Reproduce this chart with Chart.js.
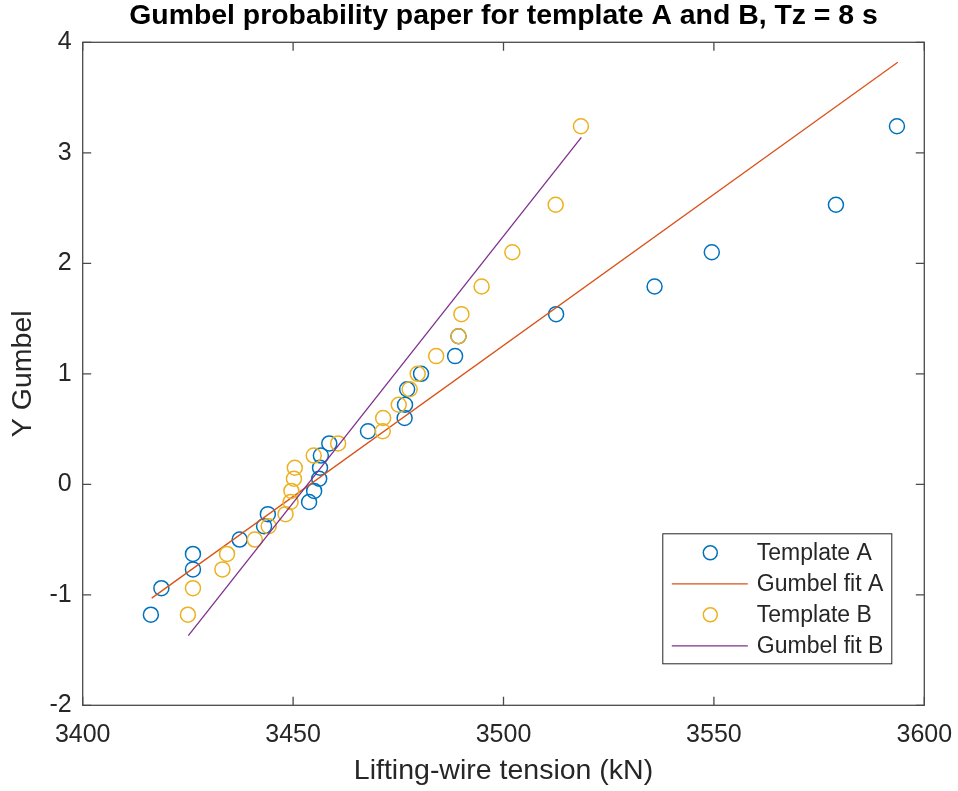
<!DOCTYPE html>
<html>
<head>
<meta charset="utf-8">
<script src="https://cdn.jsdelivr.net/npm/chart.js@4"></script>
<style>
  html, body { margin: 0; padding: 0; background: #fff; }
  #wrap { width: 958px; height: 791px; }
</style>
</head>
<body>
<div id="wrap"><canvas id="c" width="958" height="791"></canvas></div>
<script>
// ---- data ----
const seriesNames = ['Template A', 'Gumbel fit A', 'Template B', 'Gumbel fit B'];
const tensionA = [3416.2, 3418.7, 3426.2, 3426.2, 3437.3, 3443.1, 3444.0, 3453.8, 3455.0, 3456.2, 3456.4, 3456.6, 3458.6, 3467.8, 3476.5, 3476.6, 3477.1, 3480.4, 3488.5, 3489.3, 3512.5, 3535.9, 3549.5, 3579.0, 3593.5];
const tensionB = [3425.0, 3426.2, 3433.2, 3434.3, 3440.9, 3444.2, 3448.2, 3449.4, 3449.6, 3450.2, 3450.4, 3454.9, 3460.7, 3471.3, 3471.4, 3475.1, 3477.7, 3479.6, 3484.0, 3489.3, 3490.0, 3494.8, 3502.1, 3512.4, 3518.4];
const yGumbel = [-1.18, -0.94, -0.77, -0.63, -0.50, -0.38, -0.27, -0.16, -0.06, 0.05, 0.15, 0.26, 0.37, 0.48, 0.60, 0.72, 0.86, 1.00, 1.16, 1.34, 1.54, 1.79, 2.10, 2.53, 3.24];
const fitAx = [3416.4, 3593.7];
const fitAy = [-1.03, 3.82];
const fitBx = [3425.1, 3518.5];
const fitBy = [-1.37, 3.14];
const xTicks = [3400, 3450, 3500, 3550, 3600];
const yTicks = [-2, -1, 0, 1, 2, 3, 4];

const FONT = "'Liberation Sans', Arial, Helvetica, sans-serif";
const AXIS = '#262626';

const pts = (xs, ys) => xs.map((x, i) => ({ x: x, y: ys[i] }));

const frameAndLegend = {
  id: 'frameAndLegend',
  beforeDatasetsDraw(chart) {
    const { ctx, chartArea: a, scales } = chart;
    const tl = 8.5;
    ctx.save();
    ctx.strokeStyle = '#4a4a4a';
    ctx.lineWidth = 1.3;
    ctx.beginPath();
    scales.x.ticks.forEach(t => {
      const px = scales.x.getPixelForValue(t.value);
      ctx.moveTo(px, a.bottom); ctx.lineTo(px, a.bottom - tl);
      ctx.moveTo(px, a.top); ctx.lineTo(px, a.top + tl);
    });
    scales.y.ticks.forEach(t => {
      const py = scales.y.getPixelForValue(t.value);
      ctx.moveTo(a.left, py); ctx.lineTo(a.left + tl, py);
      ctx.moveTo(a.right, py); ctx.lineTo(a.right - tl, py);
    });
    ctx.stroke();
    ctx.strokeRect(a.left, a.top, a.right - a.left, a.bottom - a.top);
    ctx.restore();
  },
  afterDraw(chart) {
    const { ctx, chartArea: a } = chart;
    const box = { l: a.right - 261.5, t: a.bottom - 171.5, r: a.right - 32.5, b: a.bottom - 41.5 };
    ctx.save();
    ctx.fillStyle = '#ffffff';
    ctx.fillRect(box.l, box.t, box.r - box.l, box.b - box.t);
    ctx.strokeStyle = AXIS;
    ctx.lineWidth = 1;
    ctx.strokeRect(box.l, box.t, box.r - box.l, box.b - box.t);
    const rows = [19, 50, 81, 112];
    chart.data.datasets.forEach((ds, i) => {
      const y = box.t + rows[i];
      if (ds.showLine) {
        ctx.strokeStyle = ds.borderColor;
        ctx.lineWidth = ds.borderWidth;
        ctx.beginPath();
        ctx.moveTo(box.l + 9, y); ctx.lineTo(box.l + 85, y);
        ctx.stroke();
      } else {
        ctx.strokeStyle = ds.borderColor;
        ctx.lineWidth = ds.borderWidth;
        ctx.beginPath();
        ctx.arc(box.l + 47.5, y, 7, 0, Math.PI * 2);
        ctx.stroke();
      }
      ctx.fillStyle = AXIS;
      ctx.font = '23px ' + FONT;
      ctx.textAlign = 'left';
      ctx.textBaseline = 'middle';
      ctx.fillText(ds.label, box.l + 94, y + 1);
    });
    ctx.restore();
  }
};

new Chart(document.getElementById('c'), {
  type: 'scatter',
  data: {
    datasets: [
      { label: seriesNames[0], data: pts(tensionA, yGumbel), showLine: false, order: 4,
        pointStyle: 'circle', pointRadius: 7.5, pointBorderWidth: 1.5, borderWidth: 1.5,
        borderColor: '#0072BD', pointBorderColor: '#0072BD', pointBackgroundColor: 'rgba(0,0,0,0)', backgroundColor: 'rgba(0,0,0,0)' },
      { label: seriesNames[1], data: pts(fitAx, fitAy), showLine: true, order: 3,
        pointRadius: 0, borderWidth: 1.3, borderColor: '#D95319', backgroundColor: '#D95319', tension: 0 },
      { label: seriesNames[2], data: pts(tensionB, yGumbel), showLine: false, order: 2,
        pointStyle: 'circle', pointRadius: 7.5, pointBorderWidth: 1.5, borderWidth: 1.5,
        borderColor: '#EDB120', pointBorderColor: '#EDB120', pointBackgroundColor: 'rgba(0,0,0,0)', backgroundColor: 'rgba(0,0,0,0)' },
      { label: seriesNames[3], data: pts(fitBx, fitBy), showLine: true, order: 1,
        pointRadius: 0, borderWidth: 1.3, borderColor: '#7E2F8E', backgroundColor: '#7E2F8E', tension: 0 }
    ]
  },
  options: {
    responsive: false,
    animation: false,
    events: [],
    layout: { padding: { top: 0, left: 0, right: 33.7, bottom: 0 } },
    plugins: {
      legend: { display: false },
      tooltip: { enabled: false },
      title: {
        display: true,
        text: 'Gumbel probability paper for template A and B, Tz = 8 s',
        fullSize: false,
        color: '#000000',
        font: { family: FONT, size: 28.4, weight: 'bold', lineHeight: 0.8 },
        padding: { top: 4.5, bottom: 15.08 }
      }
    },
    scales: {
      x: {
        type: 'linear', min: 3400, max: 3600,
        afterBuildTicks: s => { s.ticks = xTicks.map(v => ({ value: v })); },
        afterFit: s => { s.height = 85.7; s.paddingLeft = 0; s.paddingRight = 0; },
        grid: { display: false, drawTicks: false },
        border: { display: false },
        ticks: { color: AXIS, padding: 15, font: { family: FONT, size: 25 }, callback: v => String(v) },
        title: { display: true, text: 'Lifting-wire tension (kN)', color: AXIS,
          font: { family: FONT, size: 28.5 }, padding: { top: 0, bottom: 2.8 } }
      },
      y: {
        type: 'linear', min: -2, max: 4,
        afterBuildTicks: s => { s.ticks = yTicks.map(v => ({ value: v })); },
        afterFit: s => { s.width = 82.7; s.paddingTop = 0; s.paddingBottom = 0; },
        grid: { display: false, drawTicks: false },
        border: { display: false },
        ticks: { color: AXIS, padding: 11, font: { family: FONT, size: 25 }, callback: v => String(v) },
        title: { display: true, text: 'Y Gumbel', color: AXIS,
          font: { family: FONT, size: 28.5 }, padding: { top: 6, bottom: 0 } }
      }
    }
  },
  plugins: [frameAndLegend]
});
</script>
</body>
</html>
